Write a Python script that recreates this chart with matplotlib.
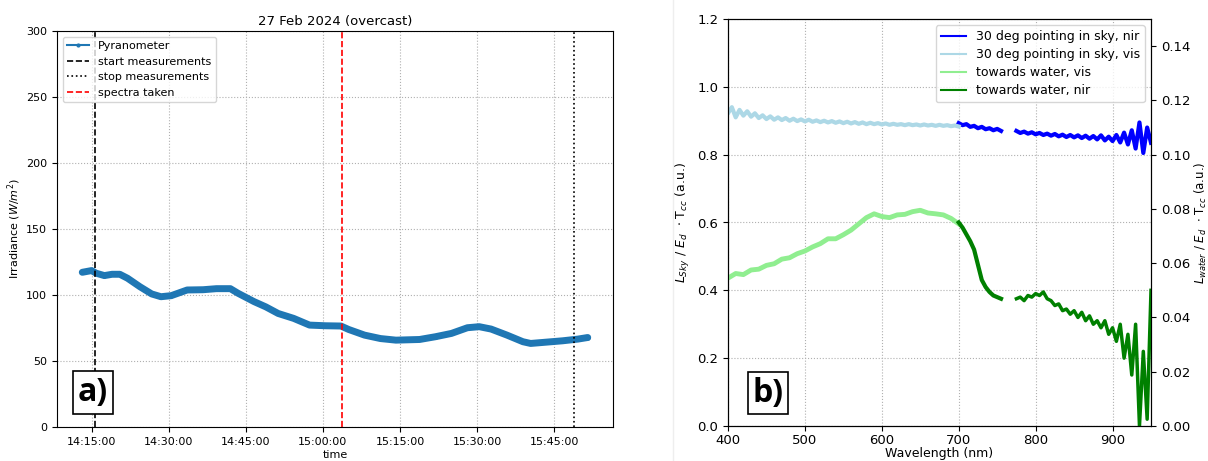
import numpy as np
import pandas as pd
import matplotlib
matplotlib.use("Agg")
import matplotlib.pyplot as plt
import matplotlib.dates as mdates
from matplotlib.lines import Line2D

# --- pyranometer record, 27 Feb 2024 ---
pyr_time = ["14:13:12", "14:15:00", "14:15:54", "14:17:30", "14:19:00", "14:20:30",
            "14:22:00", "14:24:24", "14:26:42", "14:28:30", "14:30:30", "14:33:36",
            "14:36:42", "14:39:18", "14:42:00", "14:43:30", "14:46:36", "14:48:54",
            "14:51:18", "14:54:18", "14:57:24", "15:00:30", "15:03:30", "15:05:00",
            "15:08:06", "15:11:12", "15:14:12", "15:18:48", "15:21:54", "15:25:00",
            "15:28:06", "15:30:24", "15:32:42", "15:35:48", "15:38:54", "15:40:24",
            "15:43:30", "15:46:36", "15:49:36", "15:51:30"]
pyr_irr = [117.2, 118.5, 116.5, 114.7, 115.7, 115.7, 112.7, 106.3, 100.8, 98.7,
           99.5, 103.8, 104.0, 104.8, 104.8, 101.3, 95.0, 91.0, 86.0, 82.3,
           77.2, 76.7, 76.5, 73.9, 69.6, 67.0, 65.8, 66.3, 68.4, 70.9,
           75.2, 76.0, 74.2, 69.6, 64.6, 63.3, 64.3, 65.3, 66.6, 67.8]
t_start = "14:15:42"
t_spectra = "15:03:48"
t_stop = "15:48:54"

# --- spectra ---
wl_sky_vis = np.arange(400, 701, 5)
sky_vis = [0.922, 0.940, 0.910, 0.932, 0.915, 0.928, 0.912, 0.922, 0.908, 0.916,
           0.905, 0.913, 0.903, 0.910, 0.902, 0.908, 0.900, 0.906, 0.899, 0.904,
           0.898, 0.903, 0.897, 0.901, 0.896, 0.900, 0.895, 0.899, 0.894, 0.898,
           0.893, 0.897, 0.892, 0.896, 0.891, 0.895, 0.890, 0.894, 0.890, 0.893,
           0.889, 0.892, 0.888, 0.891, 0.888, 0.890, 0.887, 0.890, 0.887, 0.889,
           0.886, 0.889, 0.886, 0.888, 0.885, 0.888, 0.885, 0.887, 0.884, 0.886,
           0.883]
wl_nir_a = np.arange(700, 756, 5)
wl_nir_b = np.arange(775, 951, 5)
sky_nir_a = [0.893, 0.887, 0.890, 0.882, 0.885, 0.878, 0.882, 0.875, 0.878, 0.872,
             0.876, 0.870]
sky_nir_b = [0.870, 0.864, 0.868, 0.862, 0.866, 0.860, 0.864, 0.858, 0.862, 0.856,
             0.861, 0.854, 0.859, 0.852, 0.858, 0.851, 0.857, 0.849, 0.856, 0.847,
             0.855, 0.845, 0.857, 0.842, 0.853, 0.840, 0.858, 0.836, 0.865, 0.830,
             0.872, 0.818, 0.895, 0.805, 0.880, 0.835]

wl_water_vis = np.arange(400, 701, 10)
water_vis = [0.0545, 0.0562, 0.0558, 0.0575, 0.0578, 0.0592, 0.0598, 0.0615, 0.0620, 0.0635,
             0.0645, 0.0660, 0.0672, 0.0690, 0.0690, 0.0705, 0.0722, 0.0745, 0.0768, 0.0782,
             0.0772, 0.0768, 0.0778, 0.0780, 0.0790, 0.0795, 0.0785, 0.0782, 0.0778, 0.0765,
             0.0745]
water_nir_a = [0.0750, 0.0731, 0.0706, 0.0681, 0.0650, 0.0594, 0.0538, 0.0512, 0.0494, 0.0481,
               0.0475, 0.0469]
water_nir_b = [0.0469, 0.0475, 0.0462, 0.0481, 0.0475, 0.0488, 0.0481, 0.0494, 0.0469, 0.0462,
               0.0444, 0.0450, 0.0425, 0.0431, 0.0412, 0.0425, 0.0400, 0.0419, 0.0388, 0.0406,
               0.0375, 0.0388, 0.0362, 0.0388, 0.0338, 0.0362, 0.0312, 0.0375, 0.0250, 0.0338,
               0.0188, 0.0375, 0.0000, 0.0275, 0.0025, 0.0500]


def to_dt(t):
    return pd.to_datetime("2024-02-27 " + pd.Series(t))


fig = plt.figure(figsize=(12.08, 4.61), dpi=100)
W, H = 1208, 461

# faint seam between the two panels
fig.add_artist(Line2D([673 / W, 673 / W], [0, 1], color="#eeeeee", lw=1))

# ---------------- a) irradiance time series ----------------
ax1 = fig.add_axes([57 / W, (H - 427) / H, 556 / W, 396 / H])
tt = to_dt(pyr_time)
ax1.plot(tt, pyr_irr, color="tab:blue", lw=5, solid_capstyle="round")
ax1.plot(tt, pyr_irr, ".-", color="tab:blue", ms=4, lw=1.5, label="Pyranometer")
ax1.axvline(to_dt([t_start])[0], color="k", ls="--", lw=1.2, label="start measurements")
ax1.axvline(to_dt([t_stop])[0], color="k", ls=":", lw=1.2, label="stop measurements")
ax1.axvline(to_dt([t_spectra])[0], color="r", ls="--", lw=1.2, label="spectra taken")
ax1.set_ylim(0, 300)
ax1.xaxis.set_major_locator(mdates.MinuteLocator(byminute=[0, 15, 30, 45]))
ax1.xaxis.set_major_formatter(mdates.DateFormatter("%H:%M:%S"))
ax1.tick_params(labelsize=8)
ax1.grid(True, ls=":", color="#b0b0b0", lw=0.8)
ax1.set_xlabel("time", fontsize=8, labelpad=2)
ax1.set_ylabel(r"Irradiance ($W/m^2$)", fontsize=8, labelpad=2)
ax1.set_title("27 Feb 2024 (overcast)", fontsize=9.5, pad=4)
ax1.legend(loc="upper left", fontsize=8, handlelength=2.0, labelspacing=0.5,
           borderpad=0.4, framealpha=0.8)
ax1.text(0.065, 0.087, "a)", transform=ax1.transAxes, ha="center", va="center",
         fontsize=23, fontweight="bold", family="Open Sans",
         bbox=dict(boxstyle="square,pad=0.15", fc="white", ec="black", lw=1.2))

# ---------------- b) sky / water spectra ----------------
ax2 = fig.add_axes([728 / W, (H - 426) / H, 423 / W, 407 / H])
ax2b = ax2.twinx()
h1, = ax2.plot(wl_nir_a, sky_nir_a, color="blue", lw=3)
ax2.plot(wl_nir_b, sky_nir_b, color="blue", lw=3)
h2, = ax2.plot(wl_sky_vis, sky_vis, color="lightblue", lw=3)
h3, = ax2b.plot(wl_water_vis, water_vis, color="lightgreen", lw=3.5)
h4, = ax2b.plot(wl_nir_a, water_nir_a, color="green", lw=3)
ax2b.plot(wl_nir_b, water_nir_b, color="green", lw=2.5)

ax2.set_xlim(400, 950)
ax2.set_ylim(0, 1.2)
ax2b.set_ylim(0, 0.15)
ax2.set_yticks(np.arange(0, 1.21, 0.2))
ax2b.set_yticks(np.arange(0, 0.141, 0.02))
ax2.yaxis.set_major_formatter(plt.FormatStrFormatter("%.1f"))
ax2b.yaxis.set_major_formatter(plt.FormatStrFormatter("%.2f"))
ax2.tick_params(labelsize=9.5)
ax2.tick_params(axis="x", pad=2.5)
ax2b.tick_params(labelsize=9.5)
ax2.grid(True, ls=":", color="#b0b0b0", lw=0.8)
ax2.set_xlabel("Wavelength (nm)", fontsize=9, labelpad=0)
ax2.set_ylabel(r"$L_{Sky}$ / $E_d$  $\cdot$ T$_{cc}$ (a.u.)", fontsize=9)
ax2b.set_ylabel(r"$L_{water}$ / $E_d$  $\cdot$ T$_{cc}$ (a.u.)", fontsize=8.5, labelpad=2)
leg_lines = [Line2D([], [], color=c, lw=1.5) for c in ["blue", "lightblue", "lightgreen", "green"]]
ax2b.legend(leg_lines,
            ["30 deg pointing in sky, nir", "30 deg pointing in sky, vis",
             "towards water, vis", "towards water, nir"],
            loc="upper right", fontsize=9, labelspacing=0.4, borderpad=0.4,
            framealpha=0.8)
ax2.text(0.095, 0.081, "b)", transform=ax2.transAxes, ha="center", va="center",
         fontsize=23, fontweight="bold", family="Open Sans",
         bbox=dict(boxstyle="square,pad=0.15", fc="white", ec="black", lw=1.2))

fig.savefig("out.png", dpi=100)
